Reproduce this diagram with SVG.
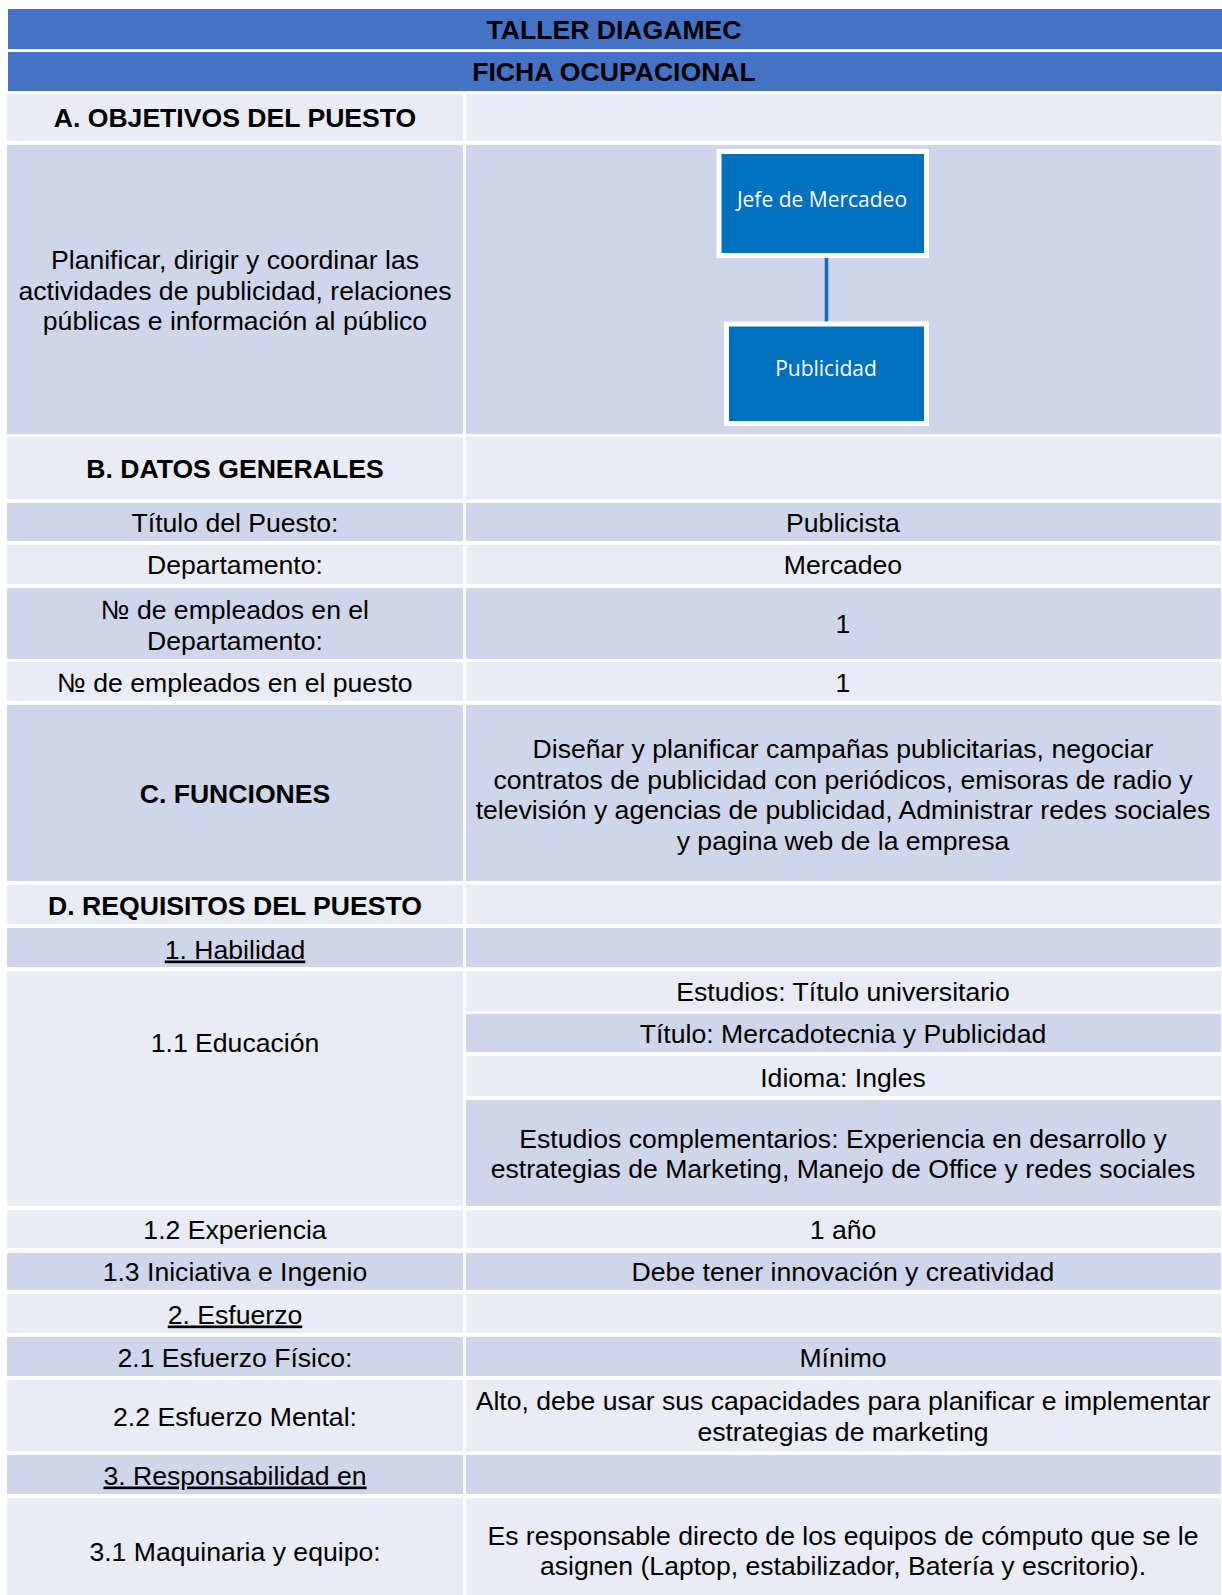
<svg xmlns="http://www.w3.org/2000/svg" width="1222" height="1595" viewBox="0 0 1222 1595">
  <style>
    .hdr { fill: #4472C4; }
    .lt { fill: #E9EBF5; }
    .dk { fill: #CFD5EA; }
    text { font-family: "Liberation Sans", Arial, sans-serif; font-size: 26.6px; fill: #000; text-anchor: middle; }
    .b { font-weight: bold; }
    .u { text-decoration: underline; }
    .box { fill: #0070C0; stroke: #FFFFFF; stroke-width: 5; }
    .boxtxt { font-family: "Open Sans", "Noto Sans", sans-serif; font-size: 21px; fill: #FFFFFF; }
    .link { stroke: #0F6DC0; stroke-width: 3.5; fill: none; }
  </style>
  <rect width="1222" height="1595" fill="#FFFFFF"/>

  <!-- header bars -->
  <g id="header">
    <rect class="hdr" x="8" y="9" width="1214" height="40"/>
    <text class="b" x="614" y="38.5">TALLER DIAGAMEC</text>
    <rect class="hdr" x="8" y="52" width="1214" height="39"/>
    <text class="b" x="614" y="81">FICHA OCUPACIONAL</text>
  </g>

  <!-- A. objetivos -->
  <g id="sec-a">
    <rect class="lt" x="7" y="94" width="456" height="47"/>
    <rect class="lt" x="466" y="94" width="755" height="47"/>
    <text class="b" x="235" y="127">A. OBJETIVOS DEL PUESTO</text>
    <rect class="dk" x="7" y="145" width="456" height="289"/>
    <rect class="dk" x="466" y="145" width="755" height="289"/>
    <text x="235" y="269">Planificar, dirigir y coordinar las</text>
    <text x="235" y="299.5">actividades de publicidad, relaciones</text>
    <text x="235" y="330">públicas e información al público</text>
  </g>

  <!-- org chart connectors -->
  <g id="connectors">
    <line class="link" x1="826.5" y1="255" x2="826.5" y2="324"/>
  </g>

  <g id="node-jefe">
    <rect class="box" x="719" y="151.5" width="207.5" height="104"/>
    <text class="boxtxt" x="822" y="206.5">Jefe de Mercadeo</text>
  </g>
  <g id="node-publicidad">
    <rect class="box" x="726.5" y="324" width="200" height="99.5"/>
    <text class="boxtxt" x="826" y="376">Publicidad</text>
  </g>

  <!-- B. datos generales -->
  <g id="sec-b">
    <rect class="lt" x="7" y="437" width="456" height="62"/>
    <rect class="lt" x="466" y="437" width="755" height="62"/>
    <text class="b" x="235" y="477.5">B. DATOS GENERALES</text>

    <rect class="dk" x="7" y="503" width="456" height="38"/>
    <rect class="dk" x="466" y="503" width="755" height="38"/>
    <text x="235" y="531.5">Título del Puesto:</text>
    <text x="843" y="531.5">Publicista</text>

    <rect class="lt" x="7" y="545" width="456" height="39"/>
    <rect class="lt" x="466" y="545" width="755" height="39"/>
    <text x="235" y="574">Departamento:</text>
    <text x="843" y="574">Mercadeo</text>

    <rect class="dk" x="7" y="588" width="456" height="71"/>
    <rect class="dk" x="466" y="588" width="755" height="71"/>
    <text x="235" y="619">№ de empleados en el</text>
    <text x="235" y="649.5">Departamento:</text>
    <text x="843" y="633">1</text>

    <rect class="lt" x="7" y="662" width="456" height="39"/>
    <rect class="lt" x="466" y="662" width="755" height="39"/>
    <text x="235" y="692">№ de empleados en el puesto</text>
    <text x="843" y="692">1</text>
  </g>

  <!-- C. funciones -->
  <g id="sec-c">
    <rect class="dk" x="7" y="705" width="456" height="176"/>
    <rect class="dk" x="466" y="705" width="755" height="176"/>
    <text class="b" x="235" y="803">C. FUNCIONES</text>
    <text x="843" y="758">Diseñar y planificar campañas publicitarias, negociar</text>
    <text x="843" y="788.5">contratos de publicidad con periódicos, emisoras de radio y</text>
    <text x="843" y="819">televisión y agencias de publicidad, Administrar redes sociales</text>
    <text x="843" y="849.5">y pagina web de la empresa</text>
  </g>

  <!-- D. requisitos -->
  <g id="sec-d">
    <rect class="lt" x="7" y="885" width="456" height="39"/>
    <rect class="lt" x="466" y="885" width="755" height="39"/>
    <text class="b" x="235" y="915">D. REQUISITOS DEL PUESTO</text>

    <rect class="dk" x="7" y="928" width="456" height="39"/>
    <rect class="dk" x="466" y="928" width="755" height="39"/>
    <text class="u" x="235" y="958.5">1. Habilidad</text>

    <rect class="lt" x="7" y="971" width="456" height="235"/>
    <text x="235" y="1052">1.1 Educación</text>
    <rect class="lt" x="466" y="971" width="755" height="40"/>
    <text x="843" y="1000.5">Estudios: Título universitario</text>
    <rect class="dk" x="466" y="1014" width="755" height="38"/>
    <text x="843" y="1043">Título: Mercadotecnia y Publicidad</text>
    <rect class="lt" x="466" y="1056" width="755" height="40"/>
    <text x="843" y="1086.5">Idioma: Ingles</text>
    <rect class="dk" x="466" y="1100" width="755" height="106"/>
    <text x="843" y="1147.5">Estudios complementarios: Experiencia en desarrollo y</text>
    <text x="843" y="1178">estrategias de Marketing, Manejo de Office y redes sociales</text>

    <rect class="lt" x="7" y="1210" width="456" height="38"/>
    <rect class="lt" x="466" y="1210" width="755" height="38"/>
    <text x="235" y="1238.5">1.2 Experiencia</text>
    <text x="843" y="1238.5">1 año</text>

    <rect class="dk" x="7" y="1253" width="456" height="37"/>
    <rect class="dk" x="466" y="1253" width="755" height="37"/>
    <text x="235" y="1281">1.3 Iniciativa e Ingenio</text>
    <text x="843" y="1281">Debe tener innovación y creatividad</text>

    <rect class="lt" x="7" y="1294" width="456" height="39"/>
    <rect class="lt" x="466" y="1294" width="755" height="39"/>
    <text class="u" x="235" y="1323.5">2. Esfuerzo</text>

    <rect class="dk" x="7" y="1337" width="456" height="39"/>
    <rect class="dk" x="466" y="1337" width="755" height="39"/>
    <text x="235" y="1366.5">2.1 Esfuerzo Físico:</text>
    <text x="843" y="1366.5">Mínimo</text>

    <rect class="lt" x="7" y="1380" width="456" height="71"/>
    <rect class="lt" x="466" y="1380" width="755" height="71"/>
    <text x="235" y="1425.5">2.2 Esfuerzo Mental:</text>
    <text x="843" y="1410">Alto, debe usar sus capacidades para planificar e implementar</text>
    <text x="843" y="1440.5">estrategias de marketing</text>

    <rect class="dk" x="7" y="1455" width="456" height="39"/>
    <rect class="dk" x="466" y="1455" width="755" height="39"/>
    <text class="u" x="235" y="1484.5">3. Responsabilidad en</text>

    <rect class="lt" x="7" y="1498" width="456" height="97"/>
    <rect class="lt" x="466" y="1498" width="755" height="97"/>
    <text x="235" y="1560.5">3.1 Maquinaria y equipo:</text>
    <text x="843" y="1544.5">Es responsable directo de los equipos de cómputo que se le</text>
    <text x="843" y="1575">asignen (Laptop, estabilizador, Batería y escritorio).</text>
  </g>
</svg>
